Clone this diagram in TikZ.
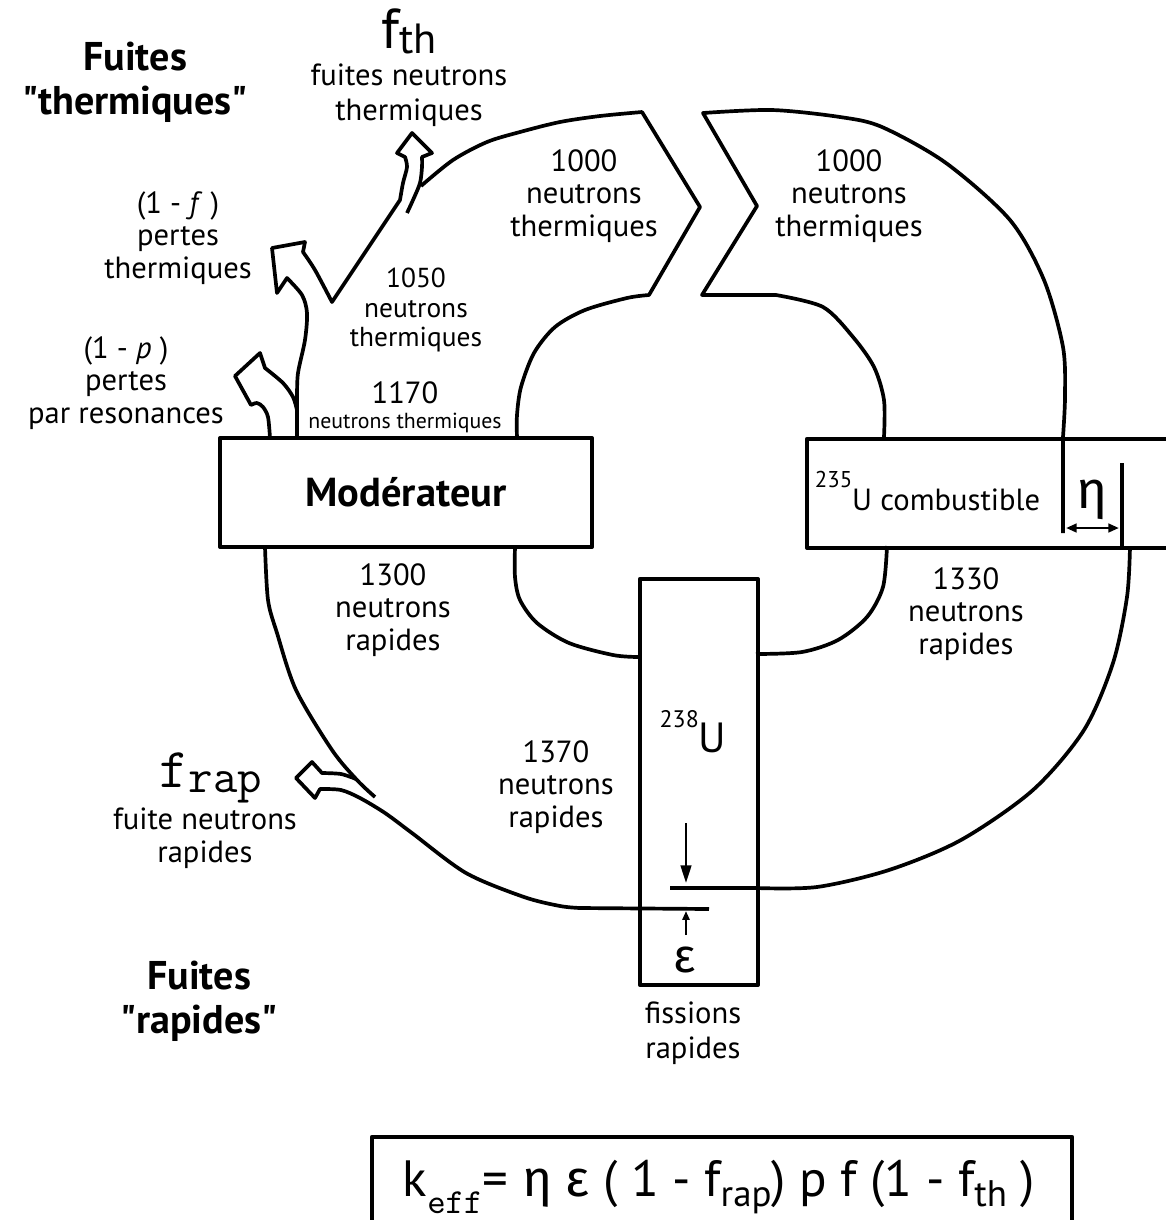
\documentclass[tikz,border=0pt]{standalone}
\usepackage{fontspec}
\setmainfont{PT Sans}
\newfontfamily\greekfont{Fira Sans}
\usetikzlibrary{arrows.meta, positioning}

\begin{document}
\begin{tikzpicture}[x=0.01cm, y=-0.01cm, line width=1.05pt, line join=round,
    lbl/.style={align=center, inner sep=0pt, font=\fontsize{8.7}{9.3}\selectfont},
    lblsm/.style={align=center, inner sep=0pt, font=\fontsize{7.8}{8.3}\selectfont},
    ttl/.style={align=center, inner sep=0pt, font=\bfseries\fontsize{11.4}{12.5}\selectfont},
    box/.style={draw, inner sep=0pt},
    tick/.style={line width=0.75pt}]

    \fill[white] (0,0) rectangle (1166,1220);
    \useasboundingbox (0,0) rectangle (1166,1220);

    % thermal band, left edge with the (1-p), (1-f) and f_th leaks
    \draw plot[smooth] coordinates {(270,438) (268,417) (263,407) (257,403) (251,405)}
        -- (235,376) -- (260,353) -- (265,368)
        -- plot[smooth] coordinates {(265,368) (283,383) (293,397) (297,410)};
    \draw plot[smooth] coordinates {(297,438) (297,410) (297,397) (298,373) (305,340) (307,313) (302,295) (287,278)}
        -- (277,293) -- (272,248) -- (305,242) -- (303,252)
        -- plot[smooth] coordinates {(303,252) (315,270) (332,302)}
        -- (400,200)
        -- plot[smooth] coordinates {(400,200) (403,183) (407,167) (405,157)}
        -- (397,153) -- (412,133) -- (432,153) -- (422,157)
        -- plot[smooth] coordinates {(422,157) (422,167) (420,183) (413,200) (407,213)};
    \draw plot[smooth] coordinates {(421,186) (453,160) (487,142) (520,132) (560,122) (600,116) (642,112)}
        -- (700,207) -- (649,295)
        -- plot[smooth] coordinates {(649,295) (627,298) (585,310) (555,327) (534,353) (521,387) (517,415) (517,438)};

    % thermal band, right part
    \draw plot[smooth] coordinates {(884,437) (884,400) (874,367) (853,337) (823,307) (776,295)}
        -- (702,295) -- (757,206) -- (703,113)
        -- plot[smooth] coordinates {(703,113) (772,110) (840,117) (882,127) (946,163) (1010,220) (1044,280) (1063,347) (1065,397) (1063,437)}
        -- (1063,533);

    % fast band
    \draw plot[smooth] coordinates {(515,547) (515,577) (520,600) (537,623) (569,643) (613,655) (638,657)};
    \draw plot[smooth] coordinates {(887,546) (883,587) (867,617) (838,640) (802,652) (756,654)};
    \draw plot[smooth] coordinates {(265,547) (268,600) (277,633) (296,690) (332,750) (357,780) (375,797)};
    \draw plot[smooth] coordinates {(356,779) (341,774) (322,773)}
        -- (312,762) -- (296,778) -- (315,798) -- (320,789)
        -- plot[smooth] coordinates {(320,789) (341,790) (360,798) (385,813) (412,833) (466,873) (524,897) (560,906) (580,908)}
        -- (709,909);
    \draw plot[smooth] coordinates {(1130,547) (1127,597) (1113,663) (1084,730) (1033,790) (961,840) (889,870) (817,887) (756,888)}
        -- (670,888);

    % boxes
    \node[box, minimum width=3.72cm, minimum height=1.09cm,
        font=\bfseries\fontsize{11.5}{11.5}\selectfont] (mod) at (406,492.5) {Modérateur};
    \node[box, minimum width=3.9cm, minimum height=1.09cm, anchor=north west] (fuel) at (805,437) {};
    \node[box, minimum width=1.18cm, minimum height=4.06cm, anchor=north west] (u238) at (638,577) {};
    \node[box, minimum width=7cm, minimum height=1.1cm, anchor=north west] (keffbox) at (370,1135) {};

    % eta and epsilon marks
    \draw (1122,463) -- (1122,546);
    \draw[tick, {Triangle[length=3pt,width=2.4pt]}-{Triangle[length=3pt,width=2.4pt]}] (1066,528) -- (1119,528);
    \draw[tick, -{Triangle[length=5pt,width=3pt]}] (686,823) -- (686,883);
    \draw[tick, -{Triangle[length=2.5pt,width=2pt]}] (686,935) -- (686,911);

    % texts
    \node[ttl] (fuitesth) at (135,82) {Fuites\\\textquotedbl thermiques\textquotedbl};
    \node[inner sep=0pt, anchor=base] (fth) at (409,48) {{\fontsize{16}{16}\selectfont f}\raisebox{-1.5pt}{\fontsize{12}{12}\selectfont th}};
    \node[lbl] (fthtxt) at (409,95) {fuites neutrons\\[0.5pt]thermiques};
    \node[lbl] (lossf) at (178,238) {(1 - \textit{f} )\\pertes\\thermiques};
    \node[lbl] (lossp) at (126,383) {(1 - \textit{p} )\\pertes\\par resonances};
    \node[lblsm] (n1050) at (416,310) {1050\\neutrons\\thermiques};
    \node[lbl, anchor=base] (n1170) at (405,403) {1170};
    \node[inner sep=0pt, font=\fontsize{6.2}{6.2}\selectfont, anchor=base] (n1170b) at (405,428) {neutrons thermiques};
    \node[lbl] (n1000a) at (584,196) {1000\\neutrons\\thermiques};
    \node[lbl] (n1000b) at (849,196) {1000\\neutrons\\thermiques};
    \node[lbl, anchor=base west] (fueltxt) at (813,510) {\raisebox{6.5pt}{\fontsize{6.5}{6.5}\selectfont 235}U combustible};
    \node[inner sep=0pt, font=\greekfont\fontsize{15}{15}\selectfont] (eta) at (1092,500) {η};
    \node[lbl] (n1300) at (393,610) {1300\\neutrons\\rapides};
    \node[lbl] (n1330) at (966,614) {1330\\neutrons\\rapides};
    \node[lbl] (n1370) at (556,787) {1370\\neutrons\\rapides};
    \node[inner sep=0pt, anchor=base] (u238txt) at (693,752) {\raisebox{7pt}{\fontsize{6.8}{6.8}\selectfont 238}{\fontsize{12}{12}\selectfont U}};
    \node[inner sep=0pt, font=\greekfont\fontsize{13.5}{13.5}\selectfont] (eps) at (685,960) {ε};
    \node[inner sep=0pt, anchor=base west] (frap) at (158,787) {\ttfamily\fontsize{16}{16}\selectfont f\raisebox{-1.5pt}{\fontsize{13.5}{13.5}\selectfont rap}};
    \node[lbl] (fraptxt) at (205,838) {fuite neutrons\\rapides};
    \node[ttl] (fuitesr) at (199,1001) {Fuites\\\textquotedbl rapides\textquotedbl};
    \node[lbl] (fiss) at (693,1033) {fissions\\[0.7pt]rapides};
    \node[inner sep=0pt, anchor=base west, font=\fontsize{14.5}{14.5}\selectfont] (keff) at (401,1196)
        {k\raisebox{-5pt}{\ttfamily\fontsize{10}{10}\selectfont eff}= {\greekfont η ε} ( 1 - f\raisebox{-3pt}{\fontsize{10.5}{10.5}\selectfont rap}) p f (1 - f\raisebox{-3pt}{\fontsize{10.5}{10.5}\selectfont th} )};
\end{tikzpicture}
\end{document}
